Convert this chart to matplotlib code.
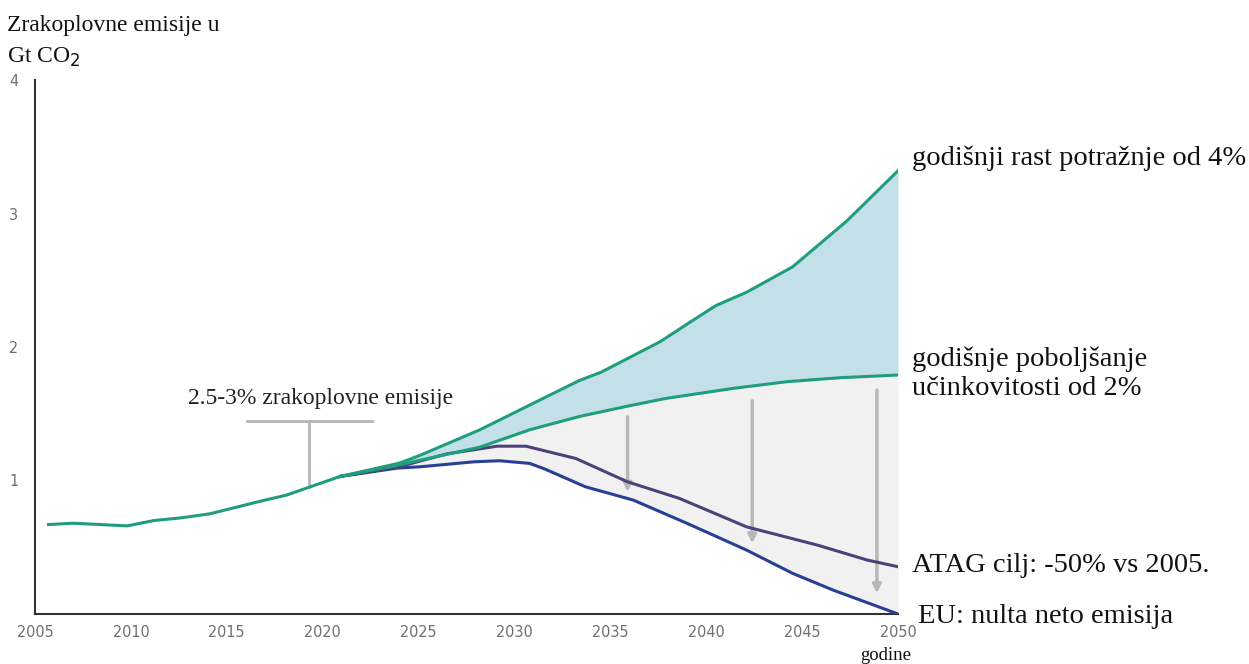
import numpy as np
import matplotlib
matplotlib.use('Agg')
import matplotlib.pyplot as plt

# historical emissions (Gt CO2)
hist_years = [2005.7, 2007.0, 2009.8, 2011.2, 2012.6, 2014.1, 2015.5, 2016.9, 2018.1, 2019.3, 2020.9]
hist_vals = [0.67, 0.68, 0.66, 0.70, 0.72, 0.75, 0.80, 0.85, 0.89, 0.95, 1.03]

# 4% annual demand growth
growth_years = [2020.9, 2024.0, 2025.1, 2028.2, 2030.3, 2033.4, 2034.5, 2037.6, 2039.2, 2040.5, 2042.1, 2044.5, 2047.3, 2050.0]
growth_vals = [1.03, 1.13, 1.19, 1.38, 1.53, 1.75, 1.81, 2.04, 2.19, 2.31, 2.41, 2.60, 2.94, 3.32]

# 2% annual efficiency improvement
eff_years = [2020.9, 2023.9, 2028.2, 2030.8, 2033.4, 2036.0, 2037.9, 2041.4, 2044.2, 2047.0, 2050.0]
eff_vals = [1.03, 1.115, 1.25, 1.38, 1.48, 1.56, 1.615, 1.69, 1.74, 1.77, 1.79]

# ATAG target
atag_years = [2020.9, 2023.9, 2026.5, 2029.1, 2030.6, 2033.2, 2035.9, 2038.6, 2042.1, 2045.8, 2048.4, 2050.0]
atag_vals = [1.03, 1.10, 1.20, 1.257, 1.257, 1.165, 0.99, 0.866, 0.653, 0.516, 0.404, 0.354]

# EU net zero
eu_years = [2020.9, 2023.9, 2025.1, 2027.9, 2029.2, 2030.8, 2031.6, 2033.7, 2036.2, 2039.0, 2042.1, 2044.5, 2046.6, 2050.0]
eu_vals = [1.03, 1.093, 1.103, 1.14, 1.148, 1.128, 1.085, 0.953, 0.853, 0.679, 0.479, 0.305, 0.18, 0.0]

# grey reduction arrows
arrow_years = [2035.9, 2042.4, 2048.9]
arrow_top = [1.477, 1.597, 1.677]
arrow_tip = [0.915, 0.529, 0.155]

green = '#1f9e7d'
purple = '#4c4279'
blue = '#273f95'
serif = ['Liberation Serif', 'DejaVu Serif']

fig = plt.figure(figsize=(12.49, 6.64), dpi=100)
ax = fig.add_axes([35 / 1249, 50 / 664, 863 / 1249, 534 / 664])

grid = np.linspace(2020.9, 2050, 400)
g_up = np.interp(grid, growth_years, growth_vals)
g_eff = np.interp(grid, eff_years, eff_vals)
g_eu = np.interp(grid, eu_years, eu_vals)
ax.fill_between(grid, g_eff, g_eu, color='#f1f1f1', lw=0, zorder=1)
ax.fill_between(grid, g_eff, g_up, color='#c3e0e8', lw=0, zorder=1)

for x, y0, y1 in zip(arrow_years, arrow_top, arrow_tip):
    ax.annotate('', xy=(x, y1), xytext=(x, y0),
                arrowprops=dict(arrowstyle='-|>', color='#b8b8b8', lw=2.5, mutation_scale=12,
                                shrinkA=0, shrinkB=0), zorder=2)

ax.plot(eu_years, eu_vals, color=blue, lw=2.2, zorder=3)
ax.plot(atag_years, atag_vals, color=purple, lw=2.2, zorder=3)
ax.plot(eff_years, eff_vals, color=green, lw=2.2, zorder=4)
ax.plot(growth_years, growth_vals, color=green, lw=2.2, zorder=4)
ax.plot(hist_years, hist_vals, color=green, lw=2.2, zorder=4)

# bracket for the 2.5-3% annotation
ax.plot([2016.05, 2022.55], [1.447, 1.447], color='#b5b5b5', lw=2, zorder=2)
ax.plot([2019.3, 2019.3], [1.447, 0.95], color='#b5b5b5', lw=2, zorder=2)
ax.text(2012.98, 1.617, '2.5-3% zrakoplovne emisije', fontsize=17, family=serif,
        va='center', ha='left', color='#222222')

ax.set_xlim(2005, 2050)
ax.set_ylim(0, 4)
ax.set_xticks(range(2005, 2051, 5))
ax.set_yticks([1, 2, 3, 4])
ax.tick_params(axis='both', length=0, labelsize=11.5, labelcolor='#6f6f6f')
ax.tick_params(axis='y', pad=12)
ax.tick_params(axis='x', pad=8)
for lab in ax.get_xticklabels() + ax.get_yticklabels():
    lab.set_family(['DejaVu Sans'])
    lab.set_stretch('condensed')
for s in ['top', 'right']:
    ax.spines[s].set_visible(False)
for s in ['left', 'bottom']:
    ax.spines[s].set_color('#333333')
    ax.spines[s].set_linewidth(1.5)

# right-hand labels
lab_kw = dict(fontsize=20.5, family=serif, va='center', ha='left', color='#111111', clip_on=False)
ax.text(2050.73, 3.413, 'godišnji rast potražnje od 4%', **lab_kw)
ax.text(2050.73, 1.80, 'godišnje poboljšanje\nučinkovitosti od 2%', linespacing=1.25, **lab_kw)
ax.text(2050.73, 0.36, 'ATAG cilj: -50% vs 2005.', **lab_kw)
ax.text(2051.05, -0.015, 'EU: nulta neto emisija', **lab_kw)

fig.text(7 / 1249, 1 - 26 / 664, 'Zrakoplovne emisije u', fontsize=17, family=serif,
         va='center', ha='left', color='#111111')
fig.text(7 / 1249, 1 - 57 / 664, 'Gt CO$_2$', fontsize=17, family=serif,
         va='center', ha='left', color='#111111')
fig.text(886 / 1249, 1 - 655 / 664, 'godine', fontsize=13.5, family=serif,
         va='center', ha='center', color='#111111')

fig.savefig('out.png', dpi=100)
